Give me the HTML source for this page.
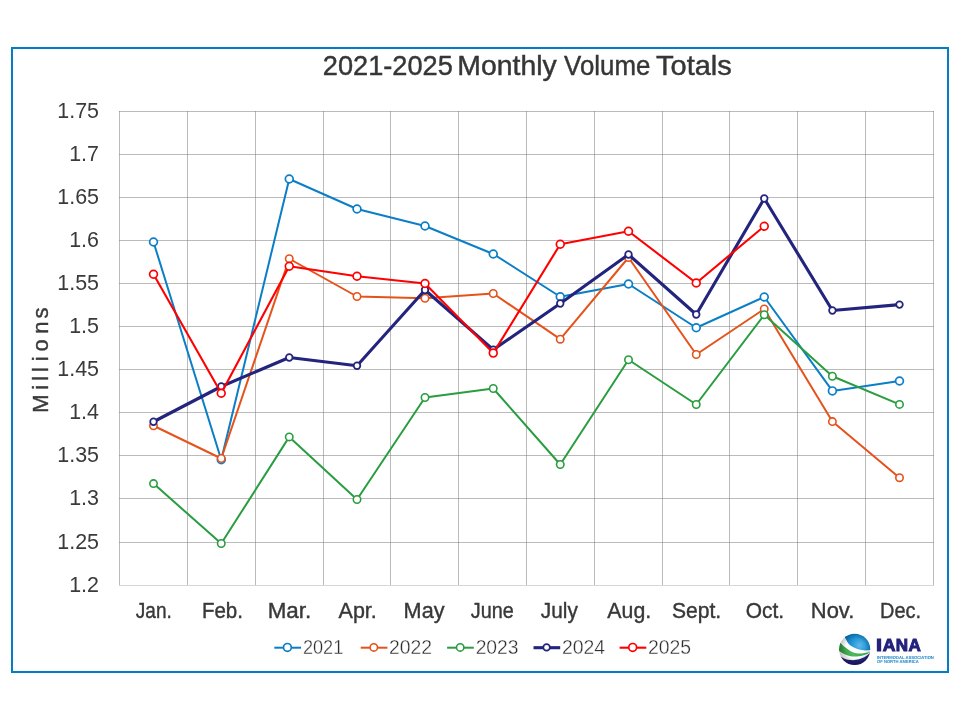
<!DOCTYPE html>
<html><head><meta charset="utf-8"><title>2021-2025 Monthly Volume Totals</title>
<style>html,body{margin:0;padding:0;background:#fff}body{width:960px;height:720px;overflow:hidden}svg{display:block;will-change:transform}text{font-family:"Liberation Sans",sans-serif}</style></head><body>
<svg width="960" height="720" viewBox="0 0 960 720">
<rect x="0" y="0" width="960" height="720" fill="#fff"/>
<rect x="12" y="48" width="936" height="624" fill="#fff" stroke="#057DC4" stroke-width="2"/>
<g stroke="#808080" stroke-opacity="0.535" stroke-width="1" fill="none" shape-rendering="crispEdges"><path d="M119 111.5H934M119 154.5H934M119 197.5H934M119 240.5H934M119 283.5H934M119 326.5H934M119 369.5H934M119 412.5H934M119 455.5H934M119 498.5H934M119 542.5H934"/><path d="M119.5 111V586M187.5 111V586M255.5 111V586M323.5 111V586M390.5 111V586M458.5 111V586M526.5 111V586M594.5 111V586M662.5 111V586M729.5 111V586M797.5 111V586M865.5 111V586M933.5 111V586"/></g>
<path d="M119 585.5H934" stroke="#d6d6d6" stroke-width="1" fill="none" shape-rendering="crispEdges"/>
<text class="tt" x="322.84" y="74.5" font-size="28" fill="#363636" stroke="#363636" stroke-width="0.45" textLength="130.01" lengthAdjust="spacingAndGlyphs">2021-2025</text>
<text class="tt" x="457.36" y="74.5" font-size="28" fill="#363636" stroke="#363636" stroke-width="0.45" textLength="99.39" lengthAdjust="spacingAndGlyphs">Monthly</text>
<text class="tt" x="564.07" y="74.5" font-size="28" fill="#363636" stroke="#363636" stroke-width="0.45" textLength="86.24" lengthAdjust="spacingAndGlyphs">Volume</text>
<text class="tt" x="656.05" y="74.5" font-size="28" fill="#363636" stroke="#363636" stroke-width="0.45" textLength="75.77" lengthAdjust="spacingAndGlyphs">Totals</text>
<text class="yl" x="57.26" y="117.9" font-size="22" fill="#3a3a3a" textLength="41.74" lengthAdjust="spacingAndGlyphs">1.75</text>
<text class="yl" x="69.18" y="160.9" font-size="22" fill="#3a3a3a" textLength="29.82" lengthAdjust="spacingAndGlyphs">1.7</text>
<text class="yl" x="57.26" y="203.9" font-size="22" fill="#3a3a3a" textLength="41.74" lengthAdjust="spacingAndGlyphs">1.65</text>
<text class="yl" x="69.18" y="246.9" font-size="22" fill="#3a3a3a" textLength="29.82" lengthAdjust="spacingAndGlyphs">1.6</text>
<text class="yl" x="57.26" y="289.9" font-size="22" fill="#3a3a3a" textLength="41.74" lengthAdjust="spacingAndGlyphs">1.55</text>
<text class="yl" x="69.18" y="332.9" font-size="22" fill="#3a3a3a" textLength="29.82" lengthAdjust="spacingAndGlyphs">1.5</text>
<text class="yl" x="57.26" y="375.9" font-size="22" fill="#3a3a3a" textLength="41.74" lengthAdjust="spacingAndGlyphs">1.45</text>
<text class="yl" x="69.18" y="418.9" font-size="22" fill="#3a3a3a" textLength="29.82" lengthAdjust="spacingAndGlyphs">1.4</text>
<text class="yl" x="57.26" y="461.9" font-size="22" fill="#3a3a3a" textLength="41.74" lengthAdjust="spacingAndGlyphs">1.35</text>
<text class="yl" x="69.18" y="504.9" font-size="22" fill="#3a3a3a" textLength="29.82" lengthAdjust="spacingAndGlyphs">1.3</text>
<text class="yl" x="57.26" y="548.9" font-size="22" fill="#3a3a3a" textLength="41.74" lengthAdjust="spacingAndGlyphs">1.25</text>
<text class="yl" x="69.18" y="591.9" font-size="22" fill="#3a3a3a" textLength="29.82" lengthAdjust="spacingAndGlyphs">1.2</text>
<text id="ytitle" transform="translate(48.4,411) rotate(-90)" x="-1.71 21.35 30.25 39.05 49.85 59.42 77.17 92.58" y="0" font-size="22" fill="#3a3a3a" stroke="#3a3a3a" stroke-width="0.4">Millions</text>
<text class="xl" x="135.86" y="617.9" font-size="22" fill="#383838" textLength="35.95" lengthAdjust="spacingAndGlyphs" stroke="#383838" stroke-width="0.4">Jan.</text>
<text class="xl" x="201.96" y="617.9" font-size="22" fill="#383838" textLength="41.01" lengthAdjust="spacingAndGlyphs" stroke="#383838" stroke-width="0.4">Feb.</text>
<text class="xl" x="267.70" y="617.9" font-size="22" fill="#383838" textLength="43.56" lengthAdjust="spacingAndGlyphs" stroke="#383838" stroke-width="0.4">Mar.</text>
<text class="xl" x="338.60" y="617.9" font-size="22" fill="#383838" textLength="38.22" lengthAdjust="spacingAndGlyphs" stroke="#383838" stroke-width="0.4">Apr.</text>
<text class="xl" x="403.62" y="617.9" font-size="22" fill="#383838" textLength="40.87" lengthAdjust="spacingAndGlyphs" stroke="#383838" stroke-width="0.4">May</text>
<text class="xl" x="470.85" y="617.9" font-size="22" fill="#383838" textLength="42.96" lengthAdjust="spacingAndGlyphs" stroke="#383838" stroke-width="0.4">June</text>
<text class="xl" x="540.84" y="617.9" font-size="22" fill="#383838" textLength="36.98" lengthAdjust="spacingAndGlyphs" stroke="#383838" stroke-width="0.4">July</text>
<text class="xl" x="607.35" y="617.9" font-size="22" fill="#383838" textLength="43.81" lengthAdjust="spacingAndGlyphs" stroke="#383838" stroke-width="0.4">Aug.</text>
<text class="xl" x="671.95" y="617.9" font-size="22" fill="#383838" textLength="49.20" lengthAdjust="spacingAndGlyphs" stroke="#383838" stroke-width="0.4">Sept.</text>
<text class="xl" x="745.66" y="617.9" font-size="22" fill="#383838" textLength="38.35" lengthAdjust="spacingAndGlyphs" stroke="#383838" stroke-width="0.4">Oct.</text>
<text class="xl" x="810.84" y="617.9" font-size="22" fill="#383838" textLength="43.47" lengthAdjust="spacingAndGlyphs" stroke="#383838" stroke-width="0.4">Nov.</text>
<text class="xl" x="880.00" y="617.9" font-size="22" fill="#383838" textLength="41.07" lengthAdjust="spacingAndGlyphs" stroke="#383838" stroke-width="0.4">Dec.</text>
<g stroke="#0A7EC6"><polyline points="153.5,242 221.25,459.75 289.25,179 357.0,209 425.0,226 493.25,254 560.25,296.75 628.5,284 696.25,327.75 764.25,297 832.4,390.9 899.5,381" fill="none" stroke-width="2.0" stroke-linejoin="round" stroke-linecap="round"/>
<g fill="#fff" stroke-width="1.7"><circle cx="153.5" cy="242" r="3.9"/><circle cx="221.25" cy="459.75" r="3.9"/><circle cx="289.25" cy="179" r="3.9"/><circle cx="357.0" cy="209" r="3.9"/><circle cx="425.0" cy="226" r="3.9"/><circle cx="493.25" cy="254" r="3.9"/><circle cx="560.25" cy="296.75" r="3.9"/><circle cx="628.5" cy="284" r="3.9"/><circle cx="696.25" cy="327.75" r="3.9"/><circle cx="764.25" cy="297" r="3.9"/><circle cx="832.4" cy="390.9" r="3.9"/><circle cx="899.5" cy="381" r="3.9"/></g></g>
<g stroke="#E5521A"><polyline points="153.5,425.75 221.25,458.5 289.25,258.75 357.0,296.5 425.0,298.25 493.25,293.5 560.25,339.2 628.5,257.5 696.25,354.5 764.25,309 832.4,421.6 899.5,477.7" fill="none" stroke-width="2.0" stroke-linejoin="round" stroke-linecap="round"/>
<g fill="#fff" stroke-width="1.6"><circle cx="153.5" cy="425.75" r="3.7"/><circle cx="221.25" cy="458.5" r="3.7"/><circle cx="289.25" cy="258.75" r="3.7"/><circle cx="357.0" cy="296.5" r="3.7"/><circle cx="425.0" cy="298.25" r="3.7"/><circle cx="493.25" cy="293.5" r="3.7"/><circle cx="560.25" cy="339.2" r="3.7"/><circle cx="628.5" cy="257.5" r="3.7"/><circle cx="696.25" cy="354.5" r="3.7"/><circle cx="764.25" cy="309" r="3.7"/><circle cx="832.4" cy="421.6" r="3.7"/><circle cx="899.5" cy="477.7" r="3.7"/></g></g>
<g stroke="#299D3F"><polyline points="153.5,483.6 221.25,543.5 289.25,436.9 357.0,499.5 425.0,397.5 493.25,388.5 560.25,464.5 628.5,359.75 696.25,404.5 764.25,314.75 832.4,376.25 899.5,404.4" fill="none" stroke-width="2.0" stroke-linejoin="round" stroke-linecap="round"/>
<g fill="#fff" stroke-width="1.6"><circle cx="153.5" cy="483.6" r="3.7"/><circle cx="221.25" cy="543.5" r="3.7"/><circle cx="289.25" cy="436.9" r="3.7"/><circle cx="357.0" cy="499.5" r="3.7"/><circle cx="425.0" cy="397.5" r="3.7"/><circle cx="493.25" cy="388.5" r="3.7"/><circle cx="560.25" cy="464.5" r="3.7"/><circle cx="628.5" cy="359.75" r="3.7"/><circle cx="696.25" cy="404.5" r="3.7"/><circle cx="764.25" cy="314.75" r="3.7"/><circle cx="832.4" cy="376.25" r="3.7"/><circle cx="899.5" cy="404.4" r="3.7"/></g></g>
<g stroke="#23247D"><polyline points="153.5,421.75 221.25,386.5 289.25,357.5 357.0,365.75 425.0,290 493.25,349.7 560.25,303.5 628.5,254.5 696.25,314.5 764.25,198.5 832.4,310.5 899.5,304.6" fill="none" stroke-width="3.1" stroke-linejoin="round" stroke-linecap="round"/>
<g fill="#fff" stroke-width="1.75"><circle cx="153.5" cy="421.75" r="3.3"/><circle cx="221.25" cy="386.5" r="3.3"/><circle cx="289.25" cy="357.5" r="3.3"/><circle cx="357.0" cy="365.75" r="3.3"/><circle cx="425.0" cy="290" r="3.3"/><circle cx="493.25" cy="349.7" r="3.3"/><circle cx="560.25" cy="303.5" r="3.3"/><circle cx="628.5" cy="254.5" r="3.3"/><circle cx="696.25" cy="314.5" r="3.3"/><circle cx="764.25" cy="198.5" r="3.3"/><circle cx="832.4" cy="310.5" r="3.3"/><circle cx="899.5" cy="304.6" r="3.3"/></g></g>
<g stroke="#FF0000"><polyline points="153.5,274.25 221.25,393.25 289.25,266.25 357.0,276.25 425.0,283.5 493.25,353.1 560.25,244.25 628.5,231.25 696.25,283 764.25,226.25" fill="none" stroke-width="2.1" stroke-linejoin="round" stroke-linecap="round"/>
<g fill="#fff" stroke-width="1.7"><circle cx="153.5" cy="274.25" r="3.9"/><circle cx="221.25" cy="393.25" r="3.9"/><circle cx="289.25" cy="266.25" r="3.9"/><circle cx="357.0" cy="276.25" r="3.9"/><circle cx="425.0" cy="283.5" r="3.9"/><circle cx="493.25" cy="353.1" r="3.9"/><circle cx="560.25" cy="244.25" r="3.9"/><circle cx="628.5" cy="231.25" r="3.9"/><circle cx="696.25" cy="283" r="3.9"/><circle cx="764.25" cy="226.25" r="3.9"/></g></g>
<g stroke="#0A7EC6"><path d="M274.3 647.7H301.0" stroke-width="2.0" fill="none"/><circle cx="287.4" cy="647.4" r="3.9" fill="#fff" stroke-width="1.7"/></g>
<text class="lg" x="302.94" y="654.1" font-size="20" fill="#2e2e2e" textLength="40.31" lengthAdjust="spacingAndGlyphs" stroke="#fff" stroke-width="0.35" paint-order="fill stroke">2021</text>
<g stroke="#E5521A"><path d="M360.7 647.7H387.4" stroke-width="2.0" fill="none"/><circle cx="373.79999999999995" cy="647.4" r="3.7" fill="#fff" stroke-width="1.6"/></g>
<text class="lg" x="388.88" y="654.1" font-size="20" fill="#2e2e2e" textLength="43.13" lengthAdjust="spacingAndGlyphs" stroke="#fff" stroke-width="0.35" paint-order="fill stroke">2022</text>
<g stroke="#299D3F"><path d="M447.1 647.7H473.8" stroke-width="2.0" fill="none"/><circle cx="460.2" cy="647.4" r="3.7" fill="#fff" stroke-width="1.6"/></g>
<text class="lg" x="475.63" y="654.1" font-size="20" fill="#2e2e2e" textLength="42.98" lengthAdjust="spacingAndGlyphs" stroke="#fff" stroke-width="0.35" paint-order="fill stroke">2023</text>
<g stroke="#23247D"><path d="M533.5 647.7H560.2" stroke-width="3.1" fill="none"/><circle cx="546.6" cy="647.4" r="3.3" fill="#fff" stroke-width="1.75"/></g>
<text class="lg" x="561.88" y="654.1" font-size="20" fill="#2e2e2e" textLength="43.20" lengthAdjust="spacingAndGlyphs" stroke="#fff" stroke-width="0.35" paint-order="fill stroke">2024</text>
<g stroke="#FF0000"><path d="M619.5999999999999 647.7H646.3" stroke-width="2.1" fill="none"/><circle cx="632.6999999999999" cy="647.4" r="3.9" fill="#fff" stroke-width="1.7"/></g>
<text class="lg" x="647.88" y="654.1" font-size="20" fill="#2e2e2e" textLength="43.19" lengthAdjust="spacingAndGlyphs" stroke="#fff" stroke-width="0.35" paint-order="fill stroke">2025</text>
<defs>
<clipPath id="gc"><circle cx="854.65" cy="649.4" r="15.6"/></clipPath>
<radialGradient id="gb" gradientUnits="userSpaceOnUse" cx="859.5" cy="645.5" r="15"><stop offset="0" stop-color="#5BBAEA"/><stop offset="0.55" stop-color="#2294D6"/><stop offset="1" stop-color="#0A78BE"/></radialGradient>
<linearGradient id="gg" gradientUnits="userSpaceOnUse" x1="839" y1="0" x2="870" y2="0"><stop offset="0" stop-color="#2C9A3E"/><stop offset="0.45" stop-color="#4DB85C"/><stop offset="1" stop-color="#2FA043"/></linearGradient>
<linearGradient id="gn" gradientUnits="userSpaceOnUse" x1="0" y1="654" x2="0" y2="665"><stop offset="0" stop-color="#2B2C8A"/><stop offset="1" stop-color="#1B1B6E"/></linearGradient>
<radialGradient id="gs" gradientUnits="userSpaceOnUse" cx="855.65" cy="648.4" r="16.1"><stop offset="0.6" stop-color="#000" stop-opacity="0"/><stop offset="1" stop-color="#000" stop-opacity="0.22"/></radialGradient>
</defs>
<g clip-path="url(#gc)">
<circle cx="854.65" cy="649.4" r="15.6" fill="#fdfdfd"/>
<path d="M842.33 634.00C842.75 634.56 843.81 635.76 844.83 637.33C845.85 638.91 847.01 641.78 848.44 643.44C849.88 645.11 851.69 646.31 853.44 647.33C855.20 648.35 857.06 649.05 859.00 649.56C860.94 650.06 863.31 650.31 865.11 650.39C866.92 650.46 868.54 650.14 869.83 650.00C871.13 649.86 872.38 649.63 872.89 649.56L880 620L830 620Z" fill="url(#gb)"/>
<path d="M837.89 640.11C838.33 640.57 839.35 641.69 840.56 642.89C841.76 644.09 843.43 645.94 845.11 647.33C846.80 648.72 848.81 650.25 850.67 651.22C852.52 652.19 854.37 652.80 856.22 653.17C858.07 653.54 859.93 653.54 861.78 653.44C863.63 653.35 866.04 652.87 867.33 652.61C868.63 652.35 868.63 652.21 869.56 651.89C870.48 651.56 872.33 650.87 872.89 650.67L872.89 650.39C872.29 650.76 870.39 651.96 869.28 652.61C868.17 653.26 867.47 653.77 866.22 654.28C864.97 654.79 863.44 655.30 861.78 655.67C860.11 656.04 858.07 656.41 856.22 656.50C854.37 656.59 852.52 656.55 850.67 656.22C848.81 655.90 846.98 655.39 845.11 654.56C843.24 653.72 840.93 652.15 839.44 651.22C837.96 650.30 836.76 649.37 836.22 649.00Z" fill="url(#gg)"/>
<path d="M837.89 654.83C838.40 655.16 839.74 656.08 840.94 656.78C842.15 657.47 843.49 658.44 845.11 659.00C846.73 659.56 848.81 659.97 850.67 660.11C852.52 660.25 854.37 660.16 856.22 659.83C858.07 659.51 860.11 658.81 861.78 658.17C863.44 657.52 865.04 656.64 866.22 655.94C867.41 655.25 867.87 654.79 868.89 654.00C869.91 653.21 871.76 651.69 872.33 651.22L880 670L830 670Z" fill="url(#gn)"/>
<circle cx="854.65" cy="649.4" r="15.6" fill="url(#gs)"/>
</g>
<text x="876.13" y="651.35" font-size="17.45" font-weight="bold" fill="#23237D" stroke="#23237D" stroke-width="1.0" stroke-linejoin="miter" text-rendering="geometricPrecision" textLength="6.04" lengthAdjust="spacingAndGlyphs">I</text>
<text x="882.66" y="651.35" font-size="17.45" font-weight="bold" fill="#23237D" stroke="#23237D" stroke-width="1.0" stroke-linejoin="miter" text-rendering="geometricPrecision" textLength="12.72" lengthAdjust="spacingAndGlyphs">A</text>
<text x="895.85" y="651.35" font-size="17.45" font-weight="bold" fill="#23237D" stroke="#23237D" stroke-width="1.0" stroke-linejoin="miter" text-rendering="geometricPrecision" textLength="12.29" lengthAdjust="spacingAndGlyphs">N</text>
<text x="908.57" y="651.35" font-size="17.45" font-weight="bold" fill="#23237D" stroke="#23237D" stroke-width="1.0" stroke-linejoin="miter" text-rendering="geometricPrecision" textLength="12.29" lengthAdjust="spacingAndGlyphs">A</text>
<text x="876.92" y="658.8" font-size="4.4" font-weight="bold" text-rendering="geometricPrecision" fill="#1D86CA" textLength="56.96" lengthAdjust="spacingAndGlyphs">INTERMODAL ASSOCIATION</text>
<text x="877.04" y="663.4" font-size="4.4" font-weight="bold" text-rendering="geometricPrecision" fill="#1D86CA" textLength="41.78" lengthAdjust="spacingAndGlyphs">OF NORTH AMERICA</text>
</svg></body></html>
